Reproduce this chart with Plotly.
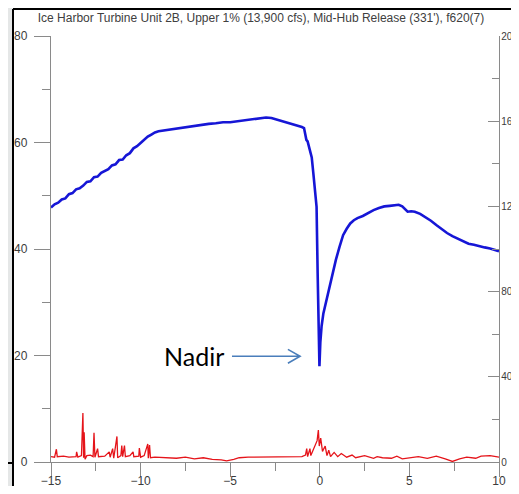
import plotly.graph_objects as go

# ---------------- data ----------------
title_text = "Ice Harbor Turbine Unit 2B, Upper 1% (13,900 cfs), Mid-Hub Release (331'), f620(7)"

blue_x = [-15.0, -14.8, -14.6, -14.4, -14.2, -14.0, -13.8, -13.6, -13.4, -13.2, -13.0, -12.8,
          -12.6, -12.4, -12.2, -12.0, -11.8, -11.6, -11.4, -11.2, -11.0, -10.8, -10.6, -10.4,
          -10.2, -10.0, -9.8, -9.6, -9.4, -9.2, -9.0, -8.6, -8.2, -7.8, -7.4, -7.0, -6.6, -6.2,
          -5.8, -5.4, -5.0, -4.6, -4.2, -3.8, -3.4, -3.0, -2.7, -2.4, -2.1, -1.8, -1.5, -1.2,
          -1.0, -0.88, -0.82, -0.75, -0.68, -0.62, -0.55, -0.45, -0.36, -0.27, -0.18, -0.12,
          -0.06, -0.02, 0.03, 0.1, 0.2, 0.35, 0.5, 0.7, 0.9, 1.1, 1.3, 1.5, 1.7, 1.9, 2.1, 2.4,
          2.7, 3.0, 3.3, 3.6, 3.9, 4.2, 4.4, 4.6, 4.8, 4.9, 5.1, 5.3, 5.6, 5.9, 6.2, 6.5, 6.8,
          7.1, 7.4, 7.7, 8.0, 8.3, 8.6, 8.9, 9.2, 9.5, 9.8, 10.0]
blue_y = [47.8, 48.4, 48.7, 49.3, 49.5, 50.3, 50.5, 51.2, 51.4, 51.9, 52.6, 52.7,
          53.5, 53.6, 54.3, 54.6, 55.0, 55.7, 55.9, 56.7, 56.8, 57.6, 58.0, 58.9,
          59.3, 59.9, 60.6, 61.1, 61.5, 61.9, 62.1, 62.3, 62.6, 62.8, 63.0, 63.1, 63.3, 63.5,
          63.6, 63.8, 63.8, 64.0, 64.1, 64.4, 64.5, 64.7, 64.6, 64.3, 64.0, 63.8, 63.5, 63.1,
          62.9, 62.7, 61.9, 60.5, 60.2, 59.3, 58.6, 57.2, 54.2, 51.0, 47.9, 35.4,
          24.2, 18.0, 22.5, 25.5, 27.9, 30.2, 32.5, 35.5, 38.0, 40.4, 42.6, 43.8, 44.8, 45.4, 45.8, 46.2,
          46.8, 47.3, 47.7, 48.0, 48.1, 48.3, 48.3, 48.0, 47.4, 47.0, 47.1, 47.0, 46.6, 46.0, 45.3, 44.5, 43.7,
          43.0, 42.4, 41.9, 41.4, 41.0, 40.8, 40.5, 40.3, 40.1, 39.8, 39.6]

red_x = [-15.0, -14.8, -14.7, -14.65, -14.3, -14.0, -13.6, -13.57, -13.5, -13.3, -13.22, -13.18,
         -13.15, -13.1, -13.0, -12.8, -12.65, -12.6, -12.55, -12.4, -12.35, -12.0, -11.75, -11.7,
         -11.56, -11.5, -11.32, -11.28, -11.1, -11.05, -11.0, -10.9, -10.85, -10.6, -10.42, -10.38,
         -10.1, -10.07, -10.0, -9.8, -9.6, -9.57, -9.5, -9.45, -9.2, -8.5, -8.0, -7.5, -7.0, -6.5,
         -6.0, -5.5, -5.2, -4.8, -4.5, -4.0, -3.5, -3.0, -2.5, -2.0, -1.5, -1.0, -0.8, -0.73, -0.68,
         -0.55, -0.5, -0.3, -0.15, -0.08, -0.03, 0.05, 0.15, 0.3, 0.4, 0.5, 0.6, 0.8, 1.0, 1.2, 1.5,
         1.8, 2.0, 2.5, 3.0, 3.2, 3.5, 4.0, 4.3, 4.6, 5.0, 5.5, 6.0, 6.5, 7.0, 7.4, 7.8, 8.2, 8.7,
         9.0, 9.5, 10.0]
red_y = [1.0, 0.9, 2.4, 1.0, 1.1, 0.9, 1.0, 1.9, 0.9, 1.2, 9.2, 0.8,
         5.6, 0.5, 1.2, 1.3, 1.0, 5.5, 0.9, 2.5, 1.0, 1.1, 1.9, 0.9,
         2.5, 0.7, 4.8, 0.8, 1.2, 3.1, 1.0, 3.1, 1.0, 1.2, 1.9, 1.0,
         1.1, 2.6, 0.9, 1.2, 3.4, 0.7, 3.2, 0.8, 0.9, 0.8, 0.7, 0.9, 0.6, 0.8,
         0.5, 0.4, 0.2, 0.5, 0.8, 0.9, 0.9, 1.0, 0.9, 1.0, 0.9, 1.0, 1.3, 2.5, 1.0,
         2.5, 1.2, 2.8, 4.0, 6.0, 3.0, 4.5, 2.0, 3.0, 1.2, 2.2, 1.0, 1.8, 1.0, 1.6, 0.9,
         1.3, 0.8, 1.2, 0.7, 1.0, 0.8, 0.7, 1.1, 0.6, 0.8, 1.0, 0.7, 1.1, 0.6, 0.1, 0.6, 0.9, 0.7,
         1.1, 1.2, 0.9]

x_ticks = [-15, -10, -5, 0, 5, 10]
left_ticks = [0, 20, 40, 60, 80]
right_ticks = [0, 40, 80, 120, 160, 200]

nadir_label = "Nadir"
nadir_text_pos = (-7.0, 20.0)
nadir_arrow_y = 19.85
nadir_arrow_x0, nadir_arrow_x1 = -4.9, -1.1

# ---------------- layout constants ----------------
W, H = 519, 494
ML, MR, MT, MB = 51, 20, 36, 32
PW, PH = W - ML - MR, H - MT - MB


def px(xp):
    return (xp - ML) / PW


def py(yp):
    return (H - MB - yp) / PH


AX = "#8a8a8a"
TXT = "#3c3c3c"
FONT = "Liberation Sans, Arial, sans-serif"

fig = go.Figure()
fig.add_trace(go.Scatter(x=red_x, y=red_y, mode="lines",
                         line=dict(color="#e5141a", width=1.3), showlegend=False,
                         hoverinfo="skip"))
fig.add_trace(go.Scatter(x=blue_x, y=blue_y, mode="lines",
                         line=dict(color="#1616d6", width=2.6), showlegend=False,
                         hoverinfo="skip"))
fig.add_trace(go.Scatter(x=[None], y=[None], yaxis="y2", showlegend=False, hoverinfo="skip"))

gray_bg = "#e5e7e7"
shapes = [
    dict(type="rect", xref="paper", yref="paper", x0=px(0), x1=px(13), y0=py(H), y1=py(0),
         fillcolor=gray_bg, line=dict(width=0), layer="below"),
    dict(type="rect", xref="paper", yref="paper", x0=px(13), x1=px(W), y0=py(9), y1=py(0),
         fillcolor=gray_bg, line=dict(width=0), layer="below"),
    dict(type="line", xref="paper", yref="paper", x0=px(13), x1=px(13), y0=py(H), y1=py(9),
         line=dict(color="black", width=2)),
    dict(type="line", xref="paper", yref="paper", x0=px(13), x1=px(W), y0=py(9), y1=py(9),
         line=dict(color="black", width=2)),
    dict(type="line", xref="paper", yref="paper", x0=px(0), x1=px(13), y0=py(463), y1=py(463),
         line=dict(color="black", width=2)),
    dict(type="path", xref="x", yref="y",
         path=(f"M {nadir_arrow_x0},{nadir_arrow_y} L {nadir_arrow_x1},{nadir_arrow_y} "
               f"M {nadir_arrow_x1 - 0.68},{nadir_arrow_y + 1.3} L {nadir_arrow_x1},{nadir_arrow_y} "
               f"L {nadir_arrow_x1 - 0.68},{nadir_arrow_y - 1.3}"),
         line=dict(color="#4a7ebb", width=1.6)),
]

fig.update_layout(
    height=H, autosize=True,
    margin=dict(l=ML, r=MR, t=MT, b=MB, pad=0, autoexpand=False),
    paper_bgcolor="white", plot_bgcolor="white",
    font=dict(family=FONT, size=12, color=TXT),
    showlegend=False,
    title=dict(text=title_text, x=px(261), xref="paper", xanchor="center",
               y=1 - 18 / H, yref="container", yanchor="middle",
               font=dict(family=FONT, size=12, color="#404040")),
    xaxis=dict(range=[-15, 10], tickvals=x_ticks, ticks="outside", ticklen=14, tickwidth=1.3,
               tickcolor=AX, showline=True, linecolor=AX, linewidth=1.3, showgrid=False,
               zeroline=False, tickfont=dict(size=12, color=TXT), automargin=False,
               ticklabelstandoff=-7,
               minor=dict(dtick=2.5, ticks="outside", ticklen=8, tickcolor=AX, tickwidth=1.3,
                          showgrid=False),
               fixedrange=True),
    yaxis=dict(range=[0, 80], tickvals=left_ticks, ticks="outside", ticklen=16, tickwidth=1.3,
               tickcolor=AX, showline=True, linecolor=AX, linewidth=1.3, showgrid=False,
               zeroline=False, tickfont=dict(size=12, color=TXT), ticklabelstandoff=4,
               automargin=False,
               minor=dict(dtick=10, ticks="outside", ticklen=8, tickcolor=AX, tickwidth=1.3,
                          showgrid=False),
               fixedrange=True),
    yaxis2=dict(range=[0, 200], tickvals=right_ticks, overlaying="y", side="right",
                ticks="inside", ticklen=11, tickwidth=1.3, tickcolor=AX, showline=True,
                linecolor=AX, linewidth=1.3, showgrid=False, zeroline=False,
                tickfont=dict(size=10, color=TXT), ticklabelstandoff=-1, automargin=False,
                minor=dict(dtick=20, ticks="inside", ticklen=7, tickcolor=AX, tickwidth=1.3,
                           showgrid=False),
                fixedrange=True),
    shapes=shapes,
    annotations=[dict(text=nadir_label, x=nadir_text_pos[0], y=nadir_text_pos[1],
                      xref="x", yref="y", showarrow=False, xanchor="center", yanchor="middle",
                      font=dict(family="Lato, Open Sans, sans-serif", size=25, color="black"))],
)

# the div is 519x494; the negative margin cancels the browser's default 8px body margin
fig.write_html("out.html", config={"displayModeBar": False},
               default_width=f"{W}px; margin:-8px; overflow:hidden", default_height=f"{H}px")
